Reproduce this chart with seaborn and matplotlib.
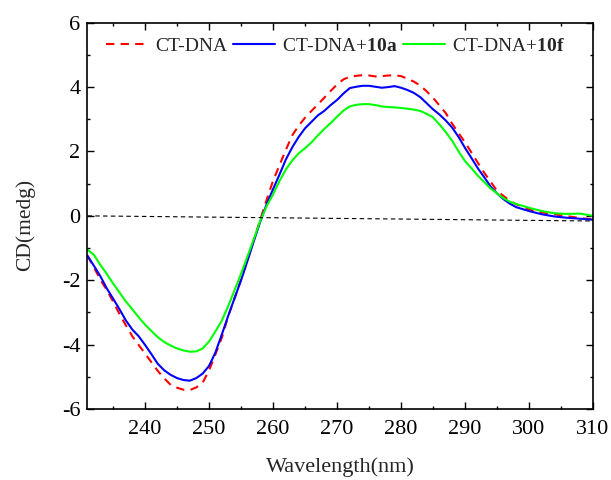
import numpy as np
import pandas as pd
import matplotlib
matplotlib.use("Agg")
import matplotlib.pyplot as plt
from matplotlib.ticker import MultipleLocator
import seaborn as sns

wavelength = [231, 232, 233, 234, 235, 236, 237, 238, 239, 240,
              241, 242, 243, 244, 245, 246, 247, 248, 249, 250,
              251, 252, 253, 254, 255, 256, 257, 258, 259, 260,
              261, 262, 263, 264, 265, 266, 267, 268, 269, 270,
              271, 272, 273, 274, 275, 276, 277, 278, 279, 280,
              281, 282, 283, 284, 285, 286, 287, 288, 289, 290,
              291, 292, 293, 294, 295, 296, 297, 298, 300, 302,
              304, 306, 308, 310]

ct_dna = [-1.24, -1.60, -1.98, -2.30, -2.66, -3.05, -3.40, -3.74, -4.01, -4.28,
          -4.55, -4.82, -5.05, -5.25, -5.34, -5.40, -5.41, -5.33, -5.18, -4.80,
          -4.30, -3.78, -3.11, -2.55, -1.98, -1.36, -0.75, -0.12, 0.50, 1.09,
          1.57, 2.05, 2.50, 2.80, 3.05, 3.26, 3.46, 3.67, 3.88, 4.08,
          4.24, 4.32, 4.35, 4.37, 4.36, 4.33, 4.34, 4.36, 4.37, 4.34,
          4.26, 4.17, 4.05, 3.87, 3.67, 3.43, 3.19, 2.86, 2.57, 2.28,
          1.97, 1.65, 1.34, 1.06, 0.78, 0.62, 0.47, 0.36, 0.20, 0.11,
          0.05, -0.01, -0.07, -0.11]

ct_dna_10a = [-1.24, -1.55, -1.87, -2.25, -2.57, -2.90, -3.25, -3.53, -3.74, -4.01,
              -4.30, -4.60, -4.80, -4.94, -5.04, -5.10, -5.12, -5.04, -4.90, -4.66,
              -4.24, -3.68, -3.10, -2.55, -2.00, -1.40, -0.78, -0.18, 0.36, 0.83,
              1.28, 1.75, 2.13, 2.45, 2.72, 2.92, 3.12, 3.26, 3.44, 3.60,
              3.80, 3.97, 4.01, 4.04, 4.04, 4.01, 3.98, 4.00, 4.03, 3.98,
              3.91, 3.82, 3.69, 3.50, 3.31, 3.15, 2.96, 2.74, 2.45, 2.11,
              1.80, 1.48, 1.20, 0.91, 0.70, 0.52, 0.38, 0.27, 0.15, 0.05,
              -0.02, -0.06, -0.09, -0.12]

ct_dna_10f = [-1.05, -1.21, -1.52, -1.80, -2.10, -2.38, -2.66, -2.90, -3.15, -3.38,
              -3.58, -3.77, -3.92, -4.03, -4.12, -4.18, -4.22, -4.21, -4.12, -3.90,
              -3.59, -3.25, -2.80, -2.30, -1.80, -1.26, -0.72, -0.15, 0.30, 0.67,
              1.08, 1.44, 1.72, 1.94, 2.10, 2.28, 2.50, 2.70, 2.88, 3.08,
              3.27, 3.40, 3.45, 3.47, 3.47, 3.44, 3.40, 3.38, 3.37, 3.35,
              3.33, 3.30, 3.26, 3.17, 3.06, 2.84, 2.60, 2.33, 2.00, 1.70,
              1.48, 1.25, 1.05, 0.85, 0.70, 0.55, 0.44, 0.37, 0.25, 0.15,
              0.08, 0.06, 0.07, 0.00]

baseline_x = [231, 310]
baseline_y = [0.0, -0.16]

series_names = ["CT-DNA", "CT-DNA+$\\mathbf{10a}$", "CT-DNA+$\\mathbf{10f}$"]
series_colors = ["#ff0000", "#0000ff", "#00ff00"]

x_ticks = [240, 250, 260, 270, 280, 290, 300, 310]
y_ticks = [-6, -4, -2, 0, 2, 4, 6]

sns.set_style("ticks")
plt.rcParams["font.family"] = ["Liberation Serif", "DejaVu Serif"]
plt.rcParams["mathtext.fontset"] = "custom"
plt.rcParams["mathtext.rm"] = "Liberation Serif"
plt.rcParams["mathtext.bf"] = "Liberation Serif:bold"
plt.rcParams["axes.unicode_minus"] = False

df = pd.DataFrame({
    "Wavelength": wavelength * 3,
    "CD": ct_dna + ct_dna_10a + ct_dna_10f,
    "Sample": [series_names[0]] * len(wavelength)
              + [series_names[1]] * len(wavelength)
              + [series_names[2]] * len(wavelength),
})

fig = plt.figure(figsize=(6.11, 4.80), dpi=100)
ax = fig.add_axes([0.1432, 0.1479, 0.8273, 0.8048])

sns.lineplot(data=df, x="Wavelength", y="CD", hue="Sample", style="Sample",
             hue_order=series_names, style_order=series_names,
             palette=dict(zip(series_names, series_colors)),
             dashes={series_names[0]: (4, 3), series_names[1]: "", series_names[2]: ""},
             linewidth=1.5, legend=False, ax=ax, sort=False)

data_lines = list(ax.lines[:3])

sns.lineplot(x=baseline_x, y=baseline_y, color="black", linewidth=0.8,
             linestyle=(0, (4, 3)), ax=ax, legend=False)

ax.set_xlim(231, 310)
ax.set_ylim(-6, 6)
ax.set_xticks(x_ticks)
ax.set_yticks(y_ticks)
ax.xaxis.set_minor_locator(MultipleLocator(5))
ax.yaxis.set_minor_locator(MultipleLocator(1))
ax.tick_params(which="both", direction="in", top=True, right=True, width=1.0,
               colors="black")
ax.tick_params(which="major", length=5)
ax.tick_params(which="minor", length=2.5)
ax.tick_params(axis="x", labelsize=16, pad=8)
ax.tick_params(axis="y", labelsize=16, pad=5)
for s in ax.spines.values():
    s.set_linewidth(1.2)
    s.set_color("black")
    s.set_visible(True)

ax.set_xlabel("Wavelength(nm)", fontsize=16, labelpad=13)
ax.set_ylabel("CD(medg)", fontsize=15.5)
ax.yaxis.set_label_coords(-0.104, 0.476)

ax.legend(data_lines, series_names, loc="center left",
          bbox_to_anchor=(0.0366, 0.9397), frameon=False, ncol=3,
          fontsize=14, borderpad=0, borderaxespad=0, handlelength=2.15,
          handletextpad=0.36, columnspacing=0.3)

fig.savefig("out.png", dpi=100)
